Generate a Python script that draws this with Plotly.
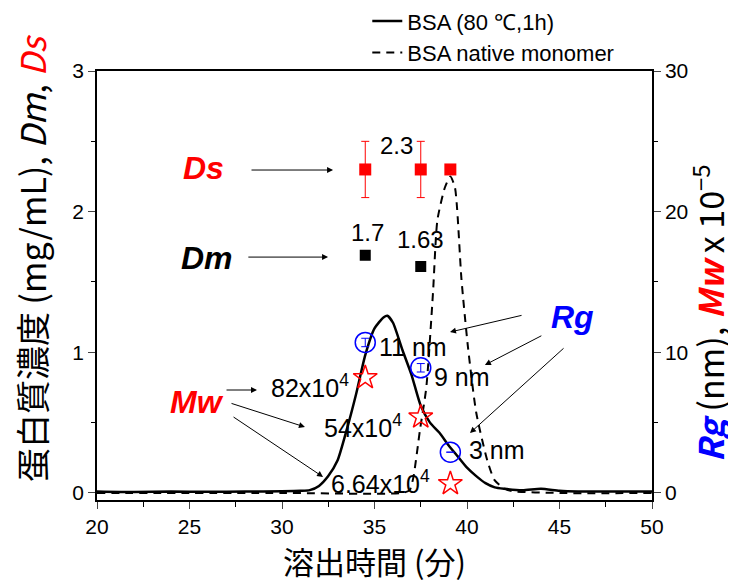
import plotly.graph_objects as go

# ---- data ----
solid_x = [20, 22, 24, 26, 28, 30, 31, 31.5, 32, 32.5, 33, 33.5, 34, 34.5, 35, 35.5, 35.7, 36, 36.5, 37, 37.5,
           38, 38.5, 39, 39.5, 40, 40.5, 41, 41.5, 42, 43, 44, 45, 46, 48, 50]
solid_y = [0.01, 0.006, 0.01, 0.008, 0.01, 0.012, 0.015, 0.02, 0.05, 0.12, 0.23, 0.45, 0.70, 0.98, 1.17, 1.25, 1.26,
           1.21, 1.02, 0.84, 0.62, 0.50, 0.43, 0.34, 0.26, 0.18, 0.12, 0.07, 0.04, 0.03, 0.02, 0.03, 0.015, 0.01,
           0.01, 0.01]

dash_x = [20, 30, 36.5, 36.9, 37.1, 37.46, 37.8, 38.16, 38.4, 38.8, 39.1, 39.35, 39.7, 40.05, 40.5, 41.1, 41.5,
          42.2, 45, 50]
dash_y = [0, 0, 0, 0.02, 0.11, 0.45, 0.75, 1.42, 1.94, 2.17, 2.25, 2.17, 1.52, 1.04, 0.57, 0.23, 0.09, 0.02, 0, 0]

pt_x = [34.5, 37.5, 39.1]
ds_y = [2.3, 2.3, 2.3]
ds_err = [0.2, 0.2, 0]
dm_x = [34.5, 37.5]
dm_y = [1.69, 1.61]
rg_y = [10.7, 8.9, 2.9]         # nm (right axis)
rg_err = [0.3, 0.3, 0.0]
mw_y = [8.2, 5.4, 0.664]        # x 10^-5 (right axis)

legend_names = ["BSA (80 ℃,1h)", "BSA native monomer"]

FONT = "Noto Sans CJK JP"
NUM = "Liberation Sans"

fig = go.Figure()
fig.add_trace(go.Scatter(x=solid_x, y=solid_y, mode="lines", name=legend_names[0],
                         line=dict(color="black", width=2.5, shape="spline", smoothing=0.6)))
fig.add_trace(go.Scatter(x=dash_x, y=dash_y, mode="lines", name=legend_names[1],
                         line=dict(color="black", width=2, dash="8px,6px", shape="spline", smoothing=0.6)))
fig.add_trace(go.Scatter(x=pt_x, y=ds_y, mode="markers", showlegend=False,
                         marker=dict(symbol="square", size=12, color="red"),
                         error_y=dict(type="data", array=ds_err, color="red", thickness=1, width=4)))
fig.add_trace(go.Scatter(x=dm_x, y=dm_y, mode="markers", showlegend=False,
                         marker=dict(symbol="square", size=11, color="black")))
fig.add_trace(go.Scatter(x=pt_x, y=rg_y, mode="markers", showlegend=False, yaxis="y2",
                         marker=dict(symbol="circle-open", size=20, color="blue", line=dict(width=1.5)),
                         error_y=dict(type="data", array=rg_err, color="blue", thickness=1, width=4)))
fig.add_trace(go.Scatter(x=pt_x, y=mw_y, mode="markers", showlegend=False, yaxis="y2",
                         marker=dict(symbol="star-open", size=18, color="red", line=dict(width=1.5))))

ann = []


def text(x, y, t, size=25, color="black", family=NUM):
    ann.append(dict(x=x, y=y, xref="x", yref="y", text=t, showarrow=False,
                    font=dict(size=size, color=color, family=family)))


def arrow(x0, y0, x1, y1):
    ann.append(dict(x=x1, y=y1, ax=x0, ay=y0, xref="x", yref="y", axref="x", ayref="y", text="",
                    showarrow=True, arrowhead=2, arrowsize=1.2, arrowwidth=1, arrowcolor="black"))


text(25.73, 2.31, "<b><i>Ds</i></b>", 32, "red")
text(25.95, 1.67, "<b><i>Dm</i></b>", 32, "black")
text(25.4, 0.65, "<b><i>Mw</i></b>", 32, "red")
text(45.7, 1.25, "<b><i>Rg</i></b>", 32, "blue")
arrow(28.27, 2.296, 32.76, 2.296)
arrow(28.1, 1.677, 32.49, 1.677)
arrow(26.92, 0.732, 28.65, 0.732)
arrow(27.19, 0.64, 31.24, 0.469)
arrow(27.3, 0.547, 32.22, 0.114)
arrow(43.03, 1.265, 39.08, 1.144)
arrow(44.1, 1.123, 40.97, 0.91)
arrow(45.3, 1.038, 40.16, 0.426)
text(36.2, 2.47, "2.3", 24)
text(34.6, 1.855, "1.7", 24)
text(37.46, 1.80, "1.63", 24)
text(31.5, 0.76, "82x10<sup>4</sup>")
text(34.38, 0.475, "54x10<sup>4</sup>")
text(35.3, 0.08, "6.64x10<sup>4</sup>")
text(37.1, 1.04, "11 nm")
text(39.75, 0.824, "9 nm")
text(41.6, 0.306, "3 nm")

# axis titles (positioned in paper coordinates)
ann.append(dict(x=-0.119, y=0.564, xref="paper", yref="paper", textangle=-90, showarrow=False,
                xanchor="center", yanchor="middle",
                text="蛋白質濃度 (mg/mL), <i>Dm</i>, <i><span style='color:red'>Ds</span></i>",
                font=dict(size=34, family=FONT, color="black")))
ann.append(dict(x=1.10, y=0.434, xref="paper", yref="paper", textangle=-90, showarrow=False,
                xanchor="center", yanchor="middle",
                text="<b><i><span style='color:blue'>Rg</span></i></b> (nm), "
                     "<b><i><span style='color:red'>Mw</span></i></b> x 10<sup>−5</sup>",
                font=dict(size=34, family=FONT, color="black")))
ann.append(dict(x=0.5, y=-0.14, xref="paper", yref="paper", showarrow=False,
                xanchor="center", yanchor="middle", text="溶出時間 (分)",
                font=dict(size=31, family=FONT, color="black")))

# page has an 8px body margin: figure is 728x577 so that it fills the 736x585 window
fig.update_layout(
    width=728, height=577,
    margin=dict(l=89, r=84, t=63, b=85, autoexpand=False),
    plot_bgcolor="white", paper_bgcolor="white",
    font=dict(family=NUM, size=17, color="black"),
    annotations=ann,
    legend=dict(x=0.487, y=1.165, xanchor="left", yanchor="top", bgcolor="rgba(0,0,0,0)",
                font=dict(size=22, family=NUM), tracegroupgap=0),
    xaxis=dict(range=[20, 50], dtick=5, tick0=20, ticks="outside", ticklen=7, tickwidth=1.2,
               showline=True, linecolor="black", linewidth=1.5, mirror=True, showgrid=False, zeroline=False,
               minor=dict(dtick=2.5, ticks="outside", ticklen=5, tickcolor="black"),
               tickfont=dict(size=21, family=NUM), automargin=False),
    yaxis=dict(range=[-0.05, 3], dtick=1, tick0=0, ticks="outside", ticklen=7, tickwidth=1.2,
               showline=True, linecolor="black", linewidth=1.5, showgrid=False, zeroline=False,
               minor=dict(dtick=0.5, ticks="outside", ticklen=4, tickcolor="black"),
               tickfont=dict(size=21, family=NUM), automargin=False),
    yaxis2=dict(range=[-0.5, 30], dtick=10, tick0=0, ticks="outside", ticklen=7, tickwidth=1.2,
                overlaying="y", side="right",
                showline=True, linecolor="black", linewidth=1.5, showgrid=False, zeroline=False,
                minor=dict(dtick=5, ticks="outside", ticklen=4, tickcolor="black"),
                tickfont=dict(size=21, family=NUM), automargin=False),
)

fig.write_html("out.html")
